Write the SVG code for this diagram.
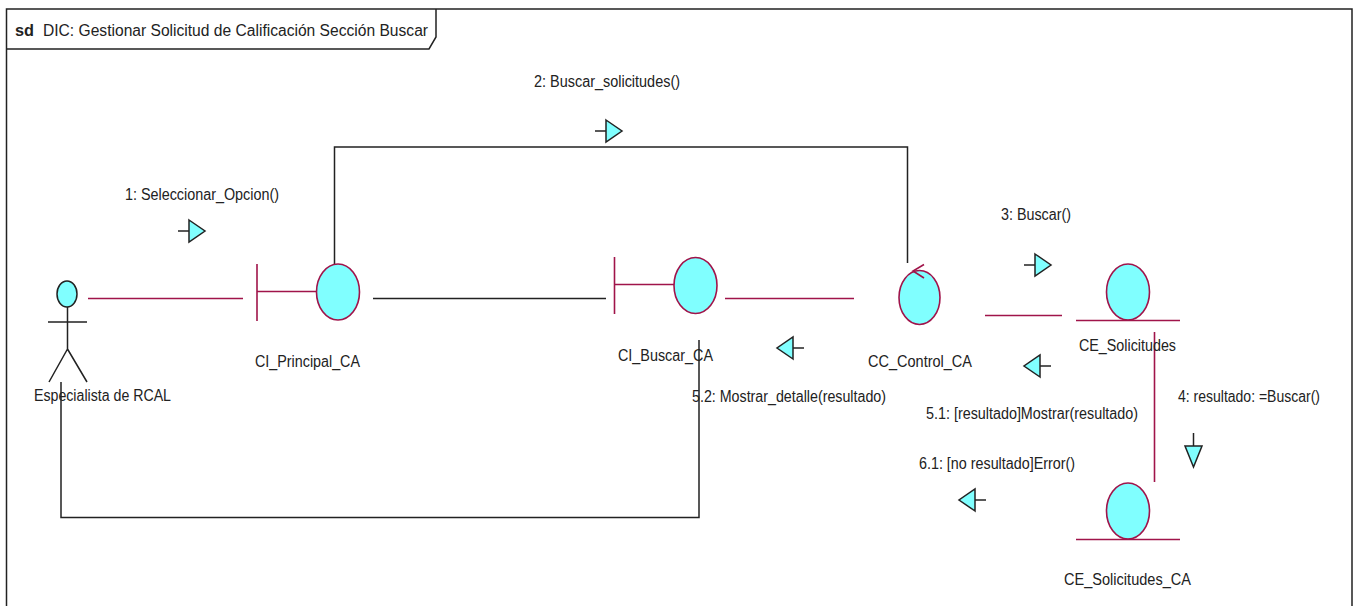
<svg xmlns="http://www.w3.org/2000/svg" width="1356" height="606" viewBox="0 0 1356 606">
<style>
text{font-family:"Liberation Sans",Arial,sans-serif;font-size:16px;fill:#222}
.b{font-weight:bold}
.k{stroke:#222;stroke-width:1.5;fill:none}
.r{stroke:#a0144a;stroke-width:1.6;fill:none}
.e{fill:#80ffff;stroke:#a0144a;stroke-width:1.6}
.a{fill:#80ffff;stroke:#222;stroke-width:1.5}
</style>
<defs>
<g id="arrow"><path class="k" d="M-27 0H-16"/><path class="a" d="M-16 -11L0 0L-16 11Z"/></g>
</defs>
<rect width="1356" height="606" fill="#fff"/>
<g id="frame">
<path class="k" d="M6.500 620V9H1352V620"/>
<path class="k" d="M6.500 49H429L436 37V9"/>
<text class="b" x="15" y="36" textLength="19" lengthAdjust="spacingAndGlyphs">sd</text>
<text x="43" y="36" textLength="385" lengthAdjust="spacingAndGlyphs">DIC: Gestionar Solicitud de Calificación Sección Buscar</text>
</g>
<g id="connectors">
<path class="r" d="M88 298.500H243"/>
<path class="k" d="M373 298.500H606"/>
<path class="r" d="M725 298.500H854"/>
<path class="r" d="M985 315.500H1062"/>
<path class="r" d="M1154.500 332V482"/>
<path class="k" d="M334.500 264V147H907.500V263"/>
<path class="k" d="M61 382V517.500H699V340"/>
<use href="#arrow" transform="translate(205 231)"/>
<use href="#arrow" transform="translate(622 131)"/>
<use href="#arrow" transform="translate(1051 265)"/>
<use href="#arrow" transform="translate(777 348) rotate(180)"/>
<use href="#arrow" transform="translate(1024 366) rotate(180)"/>
<use href="#arrow" transform="translate(959 500) rotate(180)"/>
<path class="k" d="M1193.500 433V446"/>
<path class="a" d="M1185 446H1202L1193.500 467Z"/>
<text x="125" y="200" textLength="154" lengthAdjust="spacingAndGlyphs">1: Seleccionar_Opcion()</text>
<text x="534" y="87" textLength="146" lengthAdjust="spacingAndGlyphs">2: Buscar_solicitudes()</text>
<text x="1001" y="220" textLength="70" lengthAdjust="spacingAndGlyphs">3: Buscar()</text>
<text x="1178" y="402" textLength="142" lengthAdjust="spacingAndGlyphs">4: resultado: =Buscar()</text>
<text x="926" y="419" textLength="212" lengthAdjust="spacingAndGlyphs">5.1: [resultado]Mostrar(resultado)</text>
<text x="692" y="402" textLength="194" lengthAdjust="spacingAndGlyphs">5.2: Mostrar_detalle(resultado)</text>
<text x="919" y="469" textLength="156" lengthAdjust="spacingAndGlyphs">6.1: [no resultado]Error()</text>
</g>
<g id="actor">
<ellipse class="a" cx="67" cy="294" rx="10" ry="13"/>
<path class="k" d="M67.500 307V349M48 322H87M67.500 349L49 382M67.500 349L87 382"/>
<text x="34" y="401" textLength="137" lengthAdjust="spacingAndGlyphs">Especialista de RCAL</text>
</g>
<g id="ci-principal">
<path class="r" d="M257 264V321M257 291.500H316"/>
<ellipse class="e" cx="338" cy="292" rx="21.500" ry="28"/>
<text x="255" y="367" textLength="105" lengthAdjust="spacingAndGlyphs">CI_Principal_CA</text>
</g>
<g id="ci-buscar">
<path class="r" d="M614.500 257V314M614.500 284.500H674"/>
<ellipse class="e" cx="695.500" cy="285.500" rx="21.500" ry="28"/>
<text x="618" y="361" textLength="95" lengthAdjust="spacingAndGlyphs">CI_Buscar_CA</text>
</g>
<g id="cc-control">
<ellipse class="e" cx="919.500" cy="297.500" rx="20.500" ry="27"/>
<path class="r" d="M924 264.500L913 271L924 278"/>
<text x="868" y="367" textLength="104" lengthAdjust="spacingAndGlyphs">CC_Control_CA</text>
</g>
<g id="ce-solicitudes">
<ellipse class="e" cx="1128" cy="292" rx="21.500" ry="28"/>
<path class="r" d="M1076 320.500H1180"/>
<text x="1079" y="351" textLength="97" lengthAdjust="spacingAndGlyphs">CE_Solicitudes</text>
</g>
<g id="ce-solicitudes-ca">
<ellipse class="e" cx="1128" cy="511" rx="21.500" ry="28"/>
<path class="r" d="M1076 539.500H1180"/>
<text x="1064" y="585" textLength="127" lengthAdjust="spacingAndGlyphs">CE_Solicitudes_CA</text>
</g>
</svg>
